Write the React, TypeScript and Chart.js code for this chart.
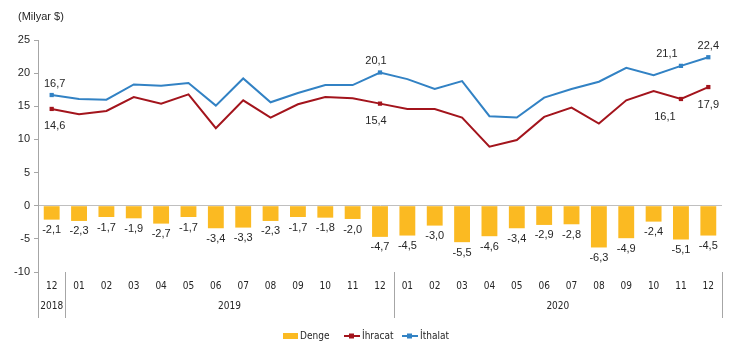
import React, { useEffect, useRef } from 'react';
import { Chart, registerables } from 'chart.js';

Chart.register(...registerables);

const months = ['12', '01', '02', '03', '04', '05', '06', '07', '08', '09', '10', '11', '12', '01', '02', '03', '04', '05', '06', '07', '08', '09', '10', '11', '12'];
const yearLabels = ['2018', '2019', '2020'];
const yearCounts = [1, 12, 12];

const denge = [-2.1, -2.3, -1.7, -1.9, -2.7, -1.7, -3.4, -3.3, -2.3, -1.7, -1.8, -2.0, -4.7, -4.5, -3.0, -5.5, -4.6, -3.4, -2.9, -2.8, -6.3, -4.9, -2.4, -5.1, -4.5];
const ihracat = [14.6, 13.8, 14.3, 16.4, 15.4, 16.8, 11.7, 15.9, 13.3, 15.3, 16.4, 16.2, 15.4, 14.6, 14.6, 13.3, 8.9, 9.9, 13.4, 14.8, 12.4, 15.9, 17.3, 16.1, 17.9];
const ithalat = [16.7, 16.1, 16.0, 18.3, 18.1, 18.5, 15.1, 19.2, 15.6, 17.0, 18.2, 18.2, 20.1, 19.1, 17.6, 18.8, 13.5, 13.3, 16.3, 17.6, 18.7, 20.8, 19.7, 21.1, 22.4];
const labeledIdx = [0, 12, 23, 24];

const yTicks = { min: -10, max: 25, step: 5 };

const C_BAR = '#FBBA22';
const C_RED = '#A3141C';
const C_BLUE = '#3282C4';
const C_AXIS = '#A6A6A6';
const C_TEXT = '#262626';
const FONT = '"Liberation Sans", Arial, sans-serif';
const NARROW = '"Liberation Sans Narrow", "DejaVu Sans Condensed", "Liberation Sans", sans-serif';

const fmt = (v: number) => v.toFixed(1).replace('.', ',');

const overlayPlugin = {
  id: 'overlay',
  afterDatasetsDraw(chart: any) {
    const ctx = chart.ctx;
    ctx.save();
    ctx.fillStyle = C_TEXT;
    ctx.font = `11px ${FONT}`;
    ctx.textAlign = 'center';
    const barMeta = chart.getDatasetMeta(0);
    barMeta.data.forEach((el: any, i: number) => {
      ctx.textBaseline = 'top';
      ctx.fillText(fmt(denge[i]), el.x, el.y + 5);
    });
    const redMeta = chart.getDatasetMeta(1);
    const blueMeta = chart.getDatasetMeta(2);
    labeledIdx.forEach((i) => {
      const dx = i === 23 ? -16 : i === 0 ? 3 : i === 12 ? -4 : 0;
      const r = redMeta.data[i];
      const b = blueMeta.data[i];
      ctx.textBaseline = 'top';
      ctx.fillText(fmt(ihracat[i]), r.x + dx, r.y + 12);
      ctx.textBaseline = 'bottom';
      ctx.fillText(fmt(ithalat[i]), b.x + (i === 23 ? -14 : dx), b.y - 6);
    });
    ctx.restore();
  },
  afterDraw(chart: any) {
    const ctx = chart.ctx;
    const x = chart.scales.x;
    const area = chart.chartArea;
    const step = x.getPixelForValue(1) - x.getPixelForValue(0);
    ctx.save();
    ctx.strokeStyle = C_AXIS;
    ctx.lineWidth = 1;
    let start = 0;
    const bounds: number[] = [0];
    yearCounts.forEach((c) => { start += c; bounds.push(start); });
    bounds.forEach((b) => {
      const px = Math.round(x.getPixelForValue(b) - step / 2) + 0.5;
      ctx.beginPath();
      ctx.moveTo(px, area.bottom);
      ctx.lineTo(px, area.bottom + 46);
      ctx.stroke();
    });
    ctx.fillStyle = C_TEXT;
    ctx.font = `10px ${NARROW}`;
    ctx.textAlign = 'center';
    ctx.textBaseline = 'middle';
    yearLabels.forEach((lab, k) => {
      const a = bounds[k];
      const e = bounds[k + 1] - 1;
      const cx = (x.getPixelForValue(a) + x.getPixelForValue(e)) / 2;
      ctx.fillText(lab, cx, area.bottom + 34);
    });
    ctx.font = `11px ${FONT}`;
    ctx.textAlign = 'left';
    ctx.fillText('(Milyar $)', 18, 17);
    const ly = 336;
    ctx.font = `10px ${NARROW}`;
    ctx.fillStyle = C_BAR;
    ctx.fillRect(283, ly - 3, 15, 6);
    ctx.fillStyle = C_TEXT;
    ctx.fillText('Denge', 300, ly);
    const drawLineKey = (x0: number, col: string, text: string) => {
      ctx.strokeStyle = col;
      ctx.lineWidth = 2;
      ctx.beginPath();
      ctx.moveTo(x0, ly);
      ctx.lineTo(x0 + 16, ly);
      ctx.stroke();
      ctx.fillStyle = col;
      ctx.fillRect(x0 + 5, ly - 2.5, 5, 5);
      ctx.fillStyle = C_TEXT;
      ctx.fillText(text, x0 + 18, ly);
    };
    drawLineKey(344, C_RED, 'İhracat');
    drawLineKey(402, C_BLUE, 'İthalat');
    ctx.restore();
  },
};

export default function App() {
  const ref = useRef<HTMLCanvasElement | null>(null);
  useEffect(() => {
    if (!ref.current) return;
    const radius = months.map((_, i) => (labeledIdx.includes(i) ? 3 : 0));
    const chart = new Chart(ref.current, {
      type: 'bar',
      data: {
        labels: months,
        datasets: [
          {
            type: 'bar',
            label: 'Denge',
            data: denge,
            backgroundColor: C_BAR,
            categoryPercentage: 1,
            barPercentage: 0.58,
            order: 3,
          },
          {
            type: 'line',
            label: 'İhracat',
            data: ihracat,
            borderColor: C_RED,
            backgroundColor: C_RED,
            borderWidth: 2,
            pointStyle: 'rect',
            pointRadius: radius,
            pointHoverRadius: radius,
            pointBorderWidth: 0,
            tension: 0,
            order: 1,
          },
          {
            type: 'line',
            label: 'İthalat',
            data: ithalat,
            borderColor: C_BLUE,
            backgroundColor: C_BLUE,
            borderWidth: 2,
            pointStyle: 'rect',
            pointRadius: radius,
            pointHoverRadius: radius,
            pointBorderWidth: 0,
            tension: 0,
            order: 0,
          },
        ] as any,
      },
      options: {
        responsive: false,
        animation: false,
        layout: { padding: { left: 0, right: 8, top: 40, bottom: 0 } },
        plugins: {
          legend: { display: false },
          tooltip: { enabled: false },
          title: { display: false },
        },
        scales: {
          x: {
            type: 'category',
            offset: true,
            grid: { display: false },
            border: { display: false },
            ticks: {
              color: C_TEXT,
              font: { family: NARROW, size: 10 },
              padding: 0,
              maxRotation: 0,
              autoSkip: false,
            },
            afterFit: (s: any) => { s.height = 76; },
          },
          y: {
            min: yTicks.min,
            max: yTicks.max,
            ticks: {
              stepSize: yTicks.step,
              color: C_TEXT,
              font: { family: FONT, size: 11 },
              padding: 4,
            },
            grid: {
              drawOnChartArea: true,
              color: (c: any) => (c.tick && c.tick.value === 0 ? '#BFBFBF' : 'rgba(0,0,0,0)'),
              lineWidth: 1,
              tickColor: C_AXIS,
              tickLength: 4,
            },
            border: { display: true, color: C_AXIS, width: 1 },
            afterFit: (s: any) => { s.width = 38; },
          },
        },
      },
      plugins: [overlayPlugin],
    });
    return () => chart.destroy();
  }, []);
  return (
    <div style={{ position: 'fixed', left: 0, top: 0, width: 730, height: 348, background: '#fff' }}>
      <canvas ref={ref} width={730} height={348} style={{ display: 'block' }} />
    </div>
  );
}
